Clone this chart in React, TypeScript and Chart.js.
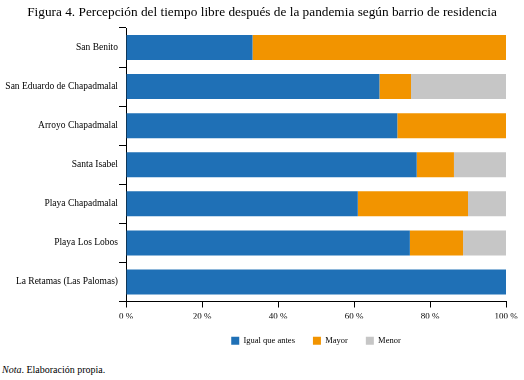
import React, { useEffect, useRef } from "react";
import { Chart, registerables } from "chart.js";

Chart.register(...registerables);

const categories = [
  "San Benito",
  "San Eduardo de Chapadmalal",
  "Arroyo Chapadmalal",
  "Santa Isabel",
  "Playa Chapadmalal",
  "Playa Los Lobos",
  "La Retamas (Las Palomas)",
];
const igualQueAntes = [33.3, 66.7, 71.4, 76.5, 61.0, 74.7, 100];
const mayor = [66.7, 8.3, 28.6, 9.8, 29.0, 14.0, 0];
const menor = [0, 25.0, 0, 13.7, 10.0, 11.3, 0];
const seriesNames = ["Igual que antes", "Mayor", "Menor"];
const titleText = "Figura 4. Percepción del tiempo libre después de la pandemia según barrio de residencia";

const SERIF = "'Liberation Serif', 'Times New Roman', serif";

export default function App() {
  const ref = useRef<HTMLCanvasElement | null>(null);
  useEffect(() => {
    if (!ref.current) return;
    const chart = new Chart(ref.current, {
      type: "bar",
      data: {
        labels: categories,
        datasets: [
          { label: seriesNames[0], data: igualQueAntes, backgroundColor: "#1f70b6" },
          { label: seriesNames[1], data: mayor, backgroundColor: "#f29400" },
          { label: seriesNames[2], data: menor, backgroundColor: "#c6c6c6" },
        ],
      },
      options: {
        indexAxis: "y",
        animation: false,
        responsive: false,
        maintainAspectRatio: false,
        layout: { padding: { left: 0, right: 18, top: 28, bottom: 0 } },
        datasets: { bar: { categoryPercentage: 1, barPercentage: 0.64 } },
        scales: {
          x: {
            stacked: true,
            min: 0,
            max: 100,
            clip: false,
            ticks: {
              stepSize: 20,
              color: "#000",
              padding: 4,
              font: { family: SERIF, size: 9 },
              callback: (v: any) => v + " %",
            },
            grid: { drawOnChartArea: false, drawTicks: true, tickLength: 6, color: "#000" },
            border: { display: true, color: "#000" },
            afterFit: (s: any) => { s.height = 17; },
          },
          y: {
            stacked: true,
            ticks: { color: "#000", padding: 1, font: { family: SERIF, size: 9.5 } },
            grid: { drawOnChartArea: false, drawTicks: true, tickLength: 7, color: "#000", offset: true },
            border: { display: true, color: "#000" },
            afterFit: (s: any) => { s.width = 126; },
          },
        },
        plugins: {
          title: { display: false },
          legend: {
            position: "bottom",
            fullSize: false,
            labels: {
              color: "#000",
              boxWidth: 8,
              boxHeight: 8,
              padding: 18,
              font: { family: SERIF, size: 8.5 },
            },
          },
          tooltip: { enabled: false },
        },
      },
    });
    return () => chart.destroy();
  }, []);
  return (
    <div style={{ position: "absolute", left: 0, top: 0, width: 524, height: 380, background: "#fff" }}>
      <canvas ref={ref} width={524} height={355} style={{ position: "absolute", left: 0, top: 0 }} />
      <div
        style={{
          position: "absolute",
          left: 0,
          top: 3,
          width: 524,
          textAlign: "center",
          fontFamily: SERIF,
          fontSize: 13.3,
          lineHeight: "18px",
          color: "#000",
          whiteSpace: "nowrap",
        }}
      >
        {titleText}
      </div>
      <div style={{ position: "absolute", left: 2, top: 364, fontFamily: SERIF, fontSize: 10, color: "#000" }}>
        <i>Nota</i>. Elaboración propia.
      </div>
    </div>
  );
}
